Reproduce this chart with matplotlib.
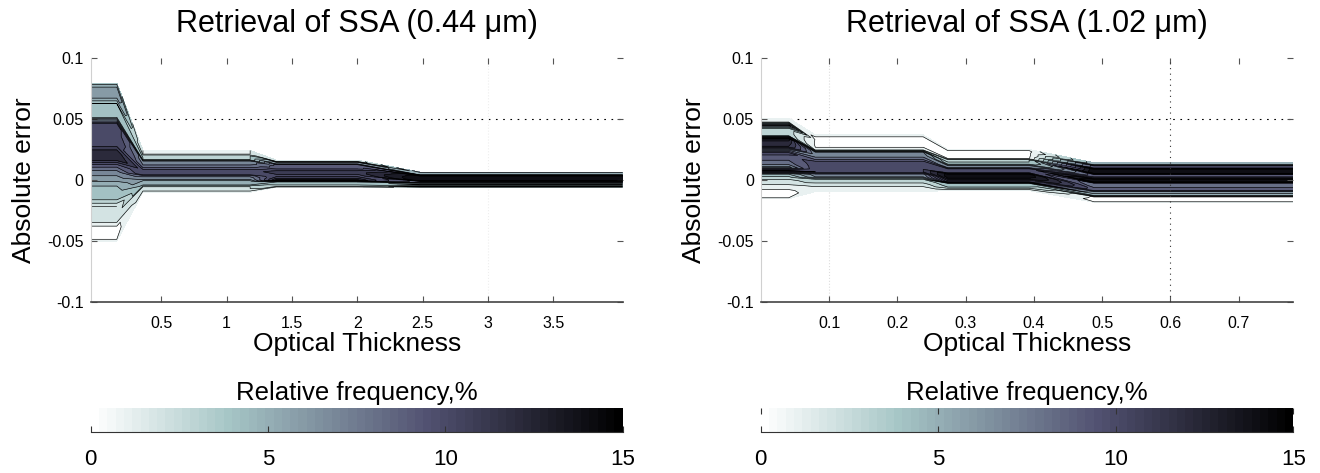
import numpy as np
import matplotlib
matplotlib.use('Agg')
import matplotlib.pyplot as plt
import matplotlib as mpl

plt.rcParams['font.family'] = ['Liberation Sans', 'DejaVu Sans']

N_BINS = 24

# ---- left panel: SSA retrieval at 0.44 um ----
# each error profile holds over two optical-thickness nodes (start, end)
tau_044 = [-0.04, 0.16, 0.36, 1.18, 1.38, 2.0, 2.48, 4.03]
top_044 = [0.0795, 0.0242, 0.0163, 0.0065]
bot_044 = [-0.050, -0.010, -0.006, -0.006]
freq_044_a = [4, 6.5, 6, 3.5, 4, 4.5, 10, 10, 10.5, 10, 12, 12.5,
              9, 7, 6, 4.5, 4, 3.5, 1.5, 2, 2, 0.2, 0.2, 0.6]
freq_044_b = [1.5, 1.5, 1.5, 3.5, 3.5, 3.5, 7, 7, 7.5, 8, 9, 10,
              10, 10.5, 8, 7, 6.5, 5, 5, 4.5, 2.5, 2.5, 2, 0.6]
freq_044_c = [2, 2, 6, 6, 9, 9, 9, 9, 10, 10.5, 11, 11,
              10.5, 10, 10.5, 11, 12, 13, 5, 4, 4, 3.5, 3, 0.8]
freq_044_d = [6, 5, 5, 5, 5, 9, 14, 14.5, 14.5, 14.5, 14.5, 14.5,
              14.5, 14, 8, 8, 7, 4, 4, 5, 4, 3.5, 4, 2]

# ---- right panel: SSA retrieval at 1.02 um ----
tau_102 = [0.0, 0.041, 0.08, 0.238, 0.274, 0.393, 0.488, 0.78]
top_102 = [0.0506, 0.0369, 0.0250, 0.0142]
bot_102 = [-0.0153, -0.0095, -0.0087, -0.0182]
freq_102_a = [1.5, 1, 7, 3, 3, 3.5, 13, 12, 11.5, 7, 10, 9,
              8.5, 8, 6, 11, 4.5, 3, 2, 1.5, 0.7, 0.2, 0.2, 0.6]
freq_102_b = [0.8, 0.4, 0.4, 0.4, 0.4, 0.5, 1, 6.5, 7, 7.5, 8.5, 10,
              10, 10, 10.5, 10.5, 7, 6.5, 3.5, 3, 2, 1.5, 1, 0.6]
freq_102_c = [0.8, 0.3, 0.3, 0.3, 0.3, 0.4, 3.5, 3.5, 4, 6.5, 7, 10,
              10, 10.5, 14, 14, 13.5, 12, 11, 4, 4, 3.5, 2, 0.8]
freq_102_d = [5, 5, 9, 9, 14.5, 14.5, 14.5, 9, 9, 11, 14.5, 14.5,
              8, 8, 8, 9, 9, 6, 5.5, 5, 0.3, 0.2, 0.2, 0.6]

err_threshold = 0.05
levels = np.arange(0.5, 16.0, 1.0)
cmap = plt.get_cmap('bone_r', 64)
norm = mpl.colors.Normalize(vmin=0, vmax=15)


def build_grid(tau, tops, bots, profiles):
    X = np.tile(np.array(tau, dtype=float), (N_BINS, 1))
    Y = np.zeros_like(X)
    Z = np.zeros_like(X)
    for k in range(len(profiles)):
        ycol = np.linspace(tops[k], bots[k], N_BINS)
        for j in (2 * k, 2 * k + 1):
            Y[:, j] = ycol
            Z[:, j] = profiles[k]
    return X, Y, Z


def draw_panel(ax, cax, X, Y, Z, title, xlim, xticks, xticklabels):
    ax.axhline(err_threshold, color='k', ls=(0, (1.5, 5)), lw=0.8, zorder=0)
    ax.contourf(X, Y, Z, levels=levels, cmap=cmap, norm=norm, zorder=1)
    ax.contour(X, Y, Z, levels=levels, colors='k', linewidths=0.45, zorder=2)
    ax.set_xlim(xlim)
    ax.set_ylim(-0.1, 0.1)
    ax.set_xticks(xticks)
    ax.set_xticklabels(xticklabels)
    ax.set_yticks([-0.1, -0.05, 0, 0.05, 0.1])
    ax.set_yticklabels(['-0.1', '-0.05', '0', '0.05', '0.1'])
    ax.tick_params(axis='both', direction='in', length=4, labelsize=11.5,
                   color='#555555', top=True, right=True)
    ax.tick_params(axis='x', pad=10)
    ax.tick_params(axis='y', pad=5)
    for s in ('top', 'right'):
        ax.spines[s].set_visible(False)
    ax.spines['left'].set_color('#d0d0d0')
    ax.spines['bottom'].set_color('#444444')
    ax.spines['bottom'].set_linewidth(1.2)
    ax.set_title(title, fontsize=22, pad=19)
    ax.set_xlabel('Optical Thickness', fontsize=19, labelpad=1)
    ax.set_ylabel('Absolute error', fontsize=19, labelpad=8)

    cb = plt.colorbar(mpl.cm.ScalarMappable(norm=norm, cmap=cmap), cax=cax,
                      orientation='horizontal', ticks=[0, 5, 10, 15])
    cb.outline.set_visible(False)
    cax.spines['bottom'].set_visible(True)
    cax.spines['bottom'].set_color('#333333')
    cax.tick_params(direction='in', length=4, labelsize=16, pad=12,
                    color='#333333', top=True)
    cax.set_xticklabels(['0', '5', '10', '15'])
    cax.set_title('Relative frequency,%', fontsize=18.5, pad=6)


fig = plt.figure(figsize=(13.2, 4.73), dpi=100)
ax1 = fig.add_axes([0.0687, 0.3615, 0.4030, 0.5159])
ax2 = fig.add_axes([0.5763, 0.3615, 0.4035, 0.5159])
cax1 = fig.add_axes([0.0687, 0.0867, 0.4030, 0.0507])
cax2 = fig.add_axes([0.5763, 0.0867, 0.4035, 0.0507])

X1, Y1, Z1 = build_grid(tau_044, top_044, bot_044,
                        [freq_044_a, freq_044_b, freq_044_c, freq_044_d])
X2, Y2, Z2 = build_grid(tau_102, top_102, bot_102,
                        [freq_102_a, freq_102_b, freq_102_c, freq_102_d])

draw_panel(ax1, cax1, X1, Y1, Z1, 'Retrieval of SSA (0.44 \u03bcm)', (-0.04, 4.03),
           [0.5, 1, 1.5, 2, 2.5, 3, 3.5], ['0.5', '1', '1.5', '2', '2.5', '3', '3.5'])
draw_panel(ax2, cax2, X2, Y2, Z2, 'Retrieval of SSA (1.02 \u03bcm)', (0, 0.78),
           [0.1, 0.2, 0.3, 0.4, 0.5, 0.6, 0.7], ['0.1', '0.2', '0.3', '0.4', '0.5', '0.6', '0.7'])

# faint grid remnants seen in the original
ax1.axvline(3, color='#eeeeee', lw=0.8, ls=':', zorder=0)
ax2.axvline(0.1, color='#dddddd', lw=0.8, ls=':', zorder=0)
ax2.axvline(0.6, color='#333333', lw=0.8, ls=(0, (1, 4)), zorder=3)

fig.savefig('out.png', dpi=100)
